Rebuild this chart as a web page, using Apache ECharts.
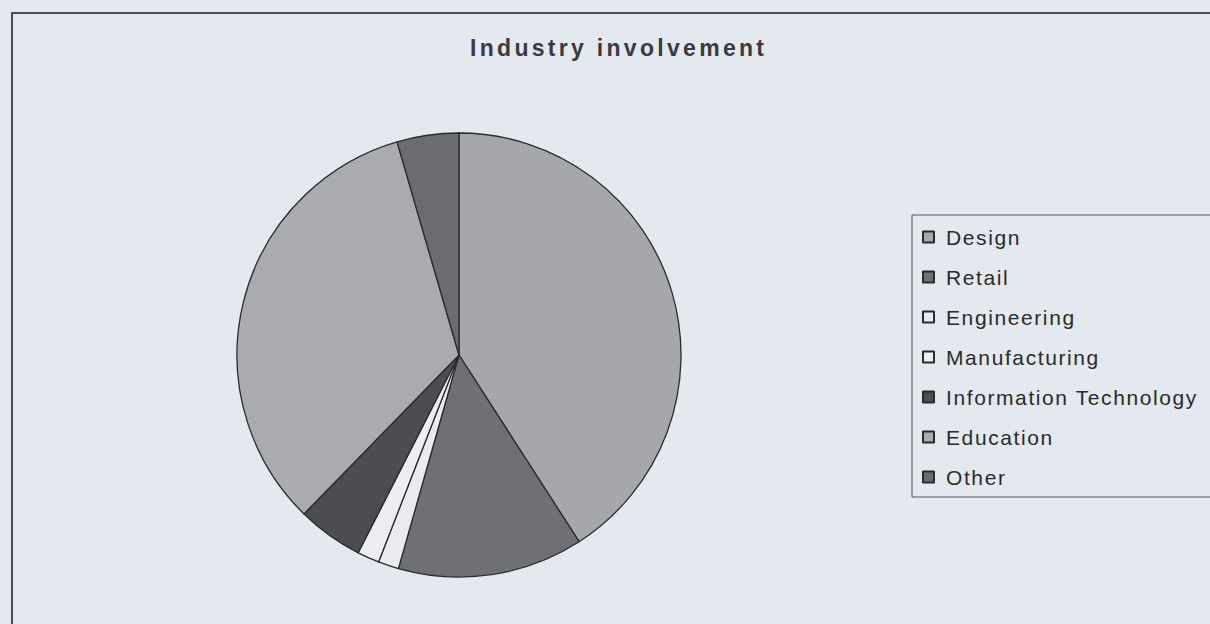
<!DOCTYPE html>
<html>
<head>
<meta charset="utf-8">
<script src="https://cdn.jsdelivr.net/npm/echarts@6/dist/echarts.min.js"></script>
<style>
  html, body { margin: 0; padding: 0; background: #e4e8ef; }
  #chart { width: 1210px; height: 624px; }
</style>
</head>
<body>
<div id="chart"></div>
<script>
const titleText = 'Industry involvement';
const categories = ['Design', 'Retail', 'Engineering', 'Manufacturing', 'Information Technology', 'Education', 'Other'];
const values = [40.9, 13.5, 1.5, 1.6, 4.8, 33.2, 4.5];

const sliceColors = ['#a5a7ab', '#6e7074', '#e9ebf0', '#eceef3', '#4b4d51', '#a9abaf', '#6a6c70'];

const chart = echarts.init(document.getElementById('chart'), null, { renderer: 'svg' });

const option = {
  backgroundColor: '#e4e8ef',
  animation: false,
  title: {
    text: titleText,
    left: 470,
    top: 36,
    padding: 0,
    textStyle: {
      fontFamily: 'Liberation Sans',
      fontWeight: 'bold',
      fontSize: 23,
      color: '#3a3b3f'
    }
  },
  legend: {
    orient: 'vertical',
    left: 912,
    top: 215,
    padding: [10, 60, 8, 10],
    itemGap: 16,
    itemWidth: 11,
    itemHeight: 11,
    icon: 'rect',
    borderColor: '#55575b',
    borderWidth: 1,
    backgroundColor: '#e4e8ef',
    selectedMode: false,
    textStyle: {
      fontFamily: 'Liberation Sans',
      fontSize: 21,
      lineHeight: 24,
      color: '#2a2b2e',
      padding: [0, 0, 0, 7]
    },
    data: categories
  },
  graphic: [{
    type: 'rect',
    shape: { x: 12, y: 13, width: 1400, height: 800 },
    style: { fill: 'none', stroke: '#4a4c50', lineWidth: 2 },
    silent: true,
    z: 100
  }],
  series: [{
    type: 'pie',
    center: [459, 355],
    radius: 222,
    startAngle: 90,
    clockwise: true,
    label: { show: false },
    labelLine: { show: false },
    emphasis: { disabled: true },
    itemStyle: { borderColor: '#2a2b2f', borderWidth: 1.3 },
    data: categories.map((name, i) => ({
      name: name,
      value: values[i],
      itemStyle: { color: sliceColors[i] }
    }))
  }]
};

chart.setOption(option);

function spaceLetters() {
  document.querySelectorAll('#chart svg text').forEach(t => {
    if (t.textContent === titleText) t.setAttribute('letter-spacing', '3.3');
    else t.setAttribute('letter-spacing', '1.6');
  });
}
spaceLetters();
chart.on('finished', spaceLetters);
</script>
</body>
</html>
